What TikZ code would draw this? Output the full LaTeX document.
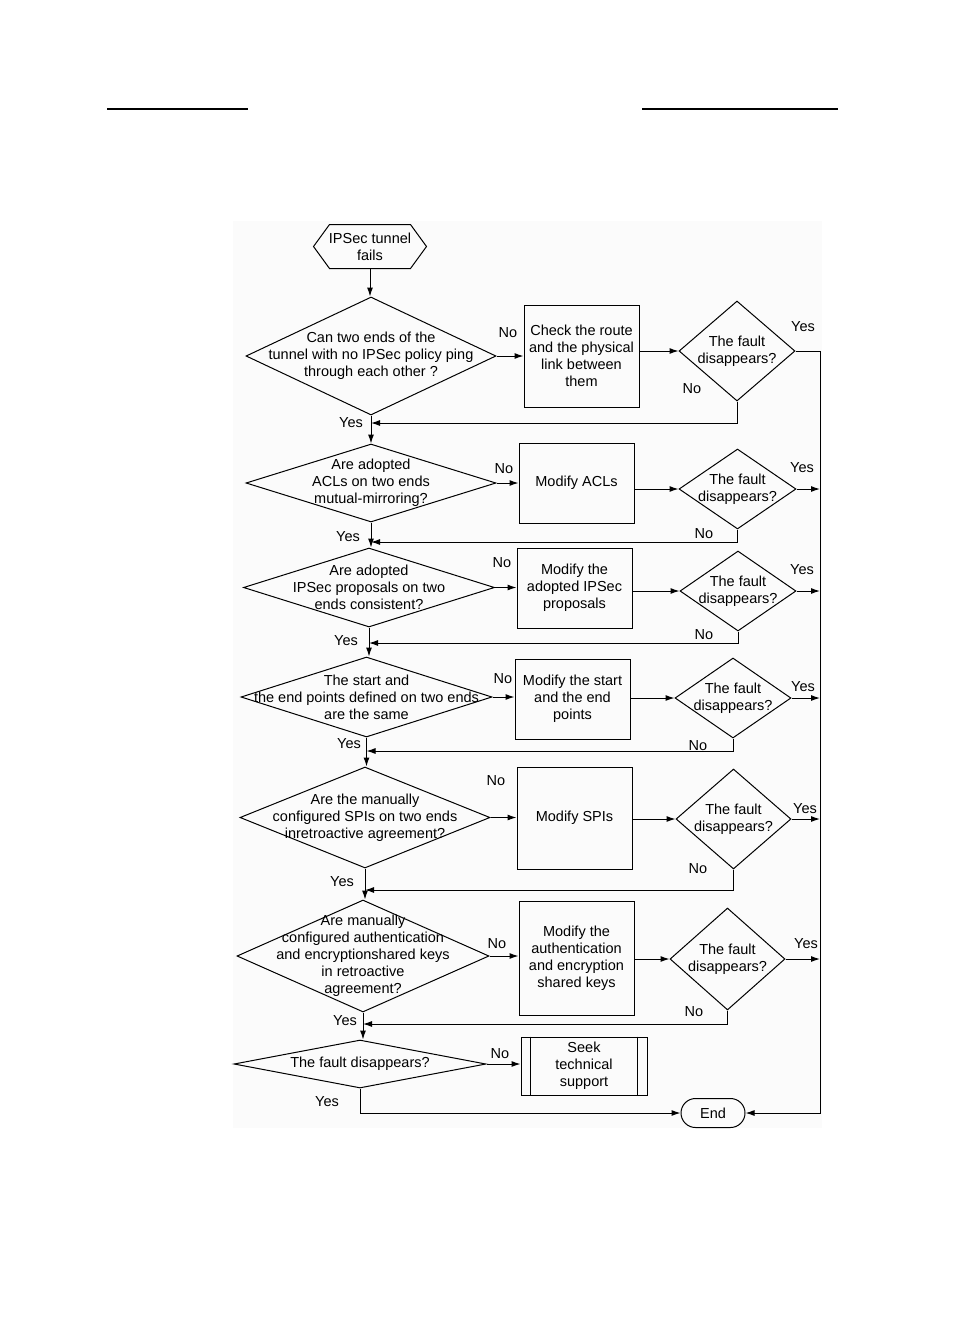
\documentclass[tikz,border=0pt]{standalone}
\usepackage{fontspec}
\setmainfont{Liberation Sans}
\usetikzlibrary{shapes,arrows.meta,positioning,calc}

\tikzset{
  base/.style={draw, line width=1pt, font=\fontsize{14.5}{17}\selectfont, align=center, inner sep=0pt},
  decision/.style={base, diamond},
  process/.style={base, rectangle, minimum width=115pt},
  terminal/.style={base, rounded rectangle, minimum width=64pt, minimum height=29pt},
  dtext/.style={font=\fontsize{14.5}{17}\selectfont, align=center, inner sep=0pt},
  lbl/.style={font=\fontsize{14.5}{17}\selectfont, inner sep=0pt},
  flow/.style={line width=1pt, -{Latex[length=9pt,width=6pt]}},
  plain/.style={line width=1pt}
}

\begin{document}
\begin{tikzpicture}[x=1pt,y=-1pt]

\useasboundingbox (0,0) rectangle (954,1323);

% page rules and faint figure background
\draw[line width=1.2pt] (107,109) -- (248,109);
\draw[line width=1.2pt] (642,109) -- (838,109);
\fill[black!1.5] (233,221) rectangle (822,1128);

% start
\node[base, draw=none, minimum width=112pt, minimum height=43pt] (tunnel) at (370,246.5) {IPSec tunnel\\fails};
\draw[plain] ([xshift=16pt]tunnel.north west) -- ([xshift=-16pt]tunnel.north east) -- (tunnel.east)
  -- ([xshift=-16pt]tunnel.south east) -- ([xshift=16pt]tunnel.south west) -- (tunnel.west) -- cycle;

% decisions on the main line
\node[decision, minimum width=250pt, minimum height=118pt,
  label={[dtext]center:Can two ends of the\\tunnel with no IPSec policy ping\\through each other ?}] (ping) at (371,356) {};
\node[decision, minimum width=250pt, minimum height=78pt,
  label={[dtext]center:Are adopted\\ACLs on two ends\\mutual-mirroring?}] (acl) at (371,483) {};
\node[decision, minimum width=251pt, minimum height=79pt,
  label={[dtext]center:Are adopted\\IPSec proposals on two\\ends consistent?}] (prop) at (369,587.5) {};
\node[decision, minimum width=251pt, minimum height=80pt,
  label={[dtext]center:The start and\\the end points defined on two ends\\are the same}] (pts) at (366.5,697) {};
\node[decision, minimum width=250pt, minimum height=101pt,
  label={[dtext]center:Are the manually\\configured SPIs on two ends\\inretroactive agreement?}] (spi) at (365,817.5) {};
\node[decision, minimum width=252pt, minimum height=112pt,
  label={[dtext]center:Are manually\\configured authentication\\and encryptionshared keys\\in retroactive\\agreement?}] (keys) at (363,956) {};
\node[decision, minimum width=252pt, minimum height=48pt,
  label={[dtext]center:The fault disappears?}] (fault) at (360,1064) {};

% actions
\node[process, minimum height=102pt] (route) at (581.5,356) {Check the route\\and the physical\\link between\\them};
\node[process, minimum height=80pt] (modacl) at (576.5,483) {Modify ACLs};
\node[process, minimum height=80pt] (modprop) at (574.5,588) {Modify the\\adopted IPSec\\proposals};
\node[process, minimum height=80pt] (modpts) at (572.5,699) {Modify the start\\and the end\\points};
\node[process, minimum height=102pt] (modspi) at (574.5,818) {Modify SPIs};
\node[process, minimum height=114pt] (modkeys) at (576.5,958) {Modify the\\authentication\\and encryption\\shared keys};
\node[process, minimum width=126pt, minimum height=58pt] (seek) at (584,1066) {Seek\\technical\\support};
\draw[plain] ([xshift=10pt]seek.north west) -- ([xshift=10pt]seek.south west);
\draw[plain] ([xshift=-10pt]seek.north east) -- ([xshift=-10pt]seek.south east);

% checks after each action
\node[decision, minimum width=116pt, minimum height=100pt,
  label={[dtext]center:The fault\\disappears?}] (chk1) at (737,351) {};
\node[decision, minimum width=117pt, minimum height=80pt,
  label={[dtext]center:The fault\\disappears?}] (chk2) at (737.5,489) {};
\node[decision, minimum width=116pt, minimum height=80pt,
  label={[dtext]center:The fault\\disappears?}] (chk3) at (738,591) {};
\node[decision, minimum width=116pt, minimum height=80pt,
  label={[dtext]center:The fault\\disappears?}] (chk4) at (733,698) {};
\node[decision, minimum width=115pt, minimum height=100pt,
  label={[dtext]center:The fault\\disappears?}] (chk5) at (733.5,819) {};
\node[decision, minimum width=115pt, minimum height=102pt,
  label={[dtext]center:The fault\\disappears?}] (chk6) at (727.5,959) {};

\node[terminal] (finish) at (713,1113) {End};

% join points on the main line and the right bus
\coordinate (j1) at (371,423);
\coordinate (j2) at (371,542);
\coordinate (j3) at (369,643);
\coordinate (j4) at (366.5,751);
\coordinate (j5) at (365,890);
\coordinate (j6) at (363,1024);
\coordinate (bus) at (820,351);

% main line
\draw[flow] (tunnel.south) -- (tunnel.south |- ping.north);
\draw[flow] (ping.south) -- (acl.north);
\draw[flow] (acl.south) -- (acl.south |- prop.north);
\draw[flow] (prop.south) -- (prop.south |- pts.north);
\draw[flow] (pts.south) -- (pts.south |- spi.north);
\draw[flow] (spi.south) -- (spi.south |- keys.north);
\draw[flow] (keys.south) -- (keys.south |- fault.north);
\draw[flow] (fault.south) |- (finish.west);
\draw[flow] (fault.east) -- (fault.east -| seek.west);

% No branches
\draw[flow] (ping.east) -- (ping.east -| route.west);
\draw[flow] (route.east |- chk1.west) -- (chk1.west);
\draw[flow] (acl.east) -- (acl.east -| modacl.west);
\draw[flow] (modacl.east |- chk2.west) -- (chk2.west);
\draw[flow] (prop.east) -- (prop.east -| modprop.west);
\draw[flow] (modprop.east |- chk3.west) -- (chk3.west);
\draw[flow] (pts.east) -- (pts.east -| modpts.west);
\draw[flow] (modpts.east |- chk4.west) -- (chk4.west);
\draw[flow] (spi.east) -- (spi.east -| modspi.west);
\draw[flow] (modspi.east |- chk5.west) -- (chk5.west);
\draw[flow] (keys.east) -- (keys.east -| modkeys.west);
\draw[flow] (modkeys.east |- chk6.west) -- (chk6.west);

% back to the main line
\draw[flow] (chk1.south) |- (j1);
\draw[flow] (chk2.south) |- (j2);
\draw[flow] (chk3.south) |- (j3);
\draw[flow] (chk4.south) |- (j4);
\draw[flow] (chk5.south) |- (j5);
\draw[flow] (chk6.south) |- (j6);

% to End
\draw[flow] (chk1.east) -- (bus) |- (finish.east);
\draw[flow] (chk2.east) -- (chk2.east -| bus);
\draw[flow] (chk3.east) -- (chk3.east -| bus);
\draw[flow] (chk4.east) -- (chk4.east -| bus);
\draw[flow] (chk5.east) -- (chk5.east -| bus);
\draw[flow] (chk6.east) -- (chk6.east -| bus);

% labels
\node[lbl] (yes1) at (351,423) {Yes};
\node[lbl] (yes2) at (348,537) {Yes};
\node[lbl] (yes3) at (346,641) {Yes};
\node[lbl] (yes4) at (349,744) {Yes};
\node[lbl] (yes5) at (342,882) {Yes};
\node[lbl] (yes6) at (345,1021) {Yes};
\node[lbl] (yes7) at (327,1102) {Yes};
\node[lbl] (no1) at (508,333) {No};
\node[lbl] (no2) at (504,469) {No};
\node[lbl] (no3) at (502,563) {No};
\node[lbl] (no4) at (503,679) {No};
\node[lbl] (no5) at (496,781) {No};
\node[lbl] (no6) at (497,944) {No};
\node[lbl] (no7) at (500,1054) {No};
\node[lbl] (cyes1) at (803,327) {Yes};
\node[lbl] (cyes2) at (802,468) {Yes};
\node[lbl] (cyes3) at (802,570) {Yes};
\node[lbl] (cyes4) at (803,687) {Yes};
\node[lbl] (cyes5) at (805,809) {Yes};
\node[lbl] (cyes6) at (806,944) {Yes};
\node[lbl] (cno1) at (692,389) {No};
\node[lbl] (cno2) at (704,534) {No};
\node[lbl] (cno3) at (704,635) {No};
\node[lbl] (cno4) at (698,746) {No};
\node[lbl] (cno5) at (698,869) {No};
\node[lbl] (cno6) at (694,1012) {No};

\end{tikzpicture}
\end{document}
